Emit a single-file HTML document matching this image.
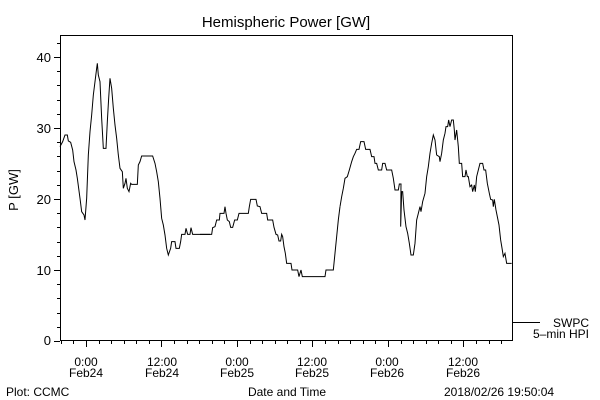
<!DOCTYPE html>
<html><head><meta charset="utf-8"><style>
html,body{margin:0;padding:0;background:#fff;}
svg{display:block;}
text{font-family:"Liberation Sans",sans-serif;fill:#000;}
</style></head><body>
<svg width="600" height="400" viewBox="0 0 600 400" xmlns="http://www.w3.org/2000/svg">
<rect width="600" height="400" fill="#fff"/>
<text x="286" y="27" font-size="15" text-anchor="middle">Hemispheric Power [GW]</text>
<rect x="60.5" y="35.5" width="452" height="305" fill="none" stroke="#000" stroke-width="1"/>
<g stroke="#000" stroke-width="1" id="yt"></g>
<g stroke="#000" stroke-width="1" id="xt"></g>
<g font-size="13" text-anchor="end">
<text x="51" y="62">40</text><text x="51" y="133">30</text><text x="51" y="204">20</text><text x="51" y="275">10</text><text x="51" y="345">0</text>
</g>
<text x="0" y="0" font-size="13" text-anchor="middle" transform="translate(18,190) rotate(-90)">P [GW]</text>
<g font-size="12" text-anchor="middle">
<text x="86" y="366">0:00</text><text x="86" y="377">Feb24</text>
<text x="162" y="366">12:00</text><text x="162" y="377">Feb24</text>
<text x="237" y="366">0:00</text><text x="237" y="377">Feb25</text>
<text x="312" y="366">12:00</text><text x="312" y="377">Feb25</text>
<text x="387" y="366">0:00</text><text x="387" y="377">Feb26</text>
<text x="463" y="366">12:00</text><text x="463" y="377">Feb26</text>
<text x="287" y="396">Date and Time</text>
</g>
<text x="6" y="396" font-size="12">Plot: CCMC</text>
<text x="444" y="396" font-size="12">2018/02/26 19:50:04</text>
<line x1="513" y1="322.5" x2="540" y2="322.5" stroke="#000"/>
<text x="589" y="327" font-size="12" text-anchor="end">SWPC</text>
<text x="589" y="338" font-size="12" text-anchor="end">5–min HPI</text>
<g fill="none" stroke="#000">
<polyline vector-effect="non-scaling-stroke" style="stroke-width:1" transform="translate(60,55) scale(0.3333)" points="0,275 8,260 15,240 22,240 25,258 32,262 38,285 42,320 48,345 52,370 56,400 60,430 65,470 72,480 75,495 80,430 85,300 90,230 95,180 100,120 105,80 110,40 112,25 115,60 120,80 125,190 130,280 138,280 142,200 146,130 150,70 155,100 160,160 165,210 170,250 175,300 180,340 187,350 190,400 195,385 198,370 202,400 207,410 212,385 215,388 232,388 235,330 240,320 245,303 250,303 278,303 285,325 290,350 295,380 300,430 305,490 310,510 315,540 320,580 325,600 332,580 335,560 345,560 348,580 358,580 362,560 365,538 375,538 378,520 383,538 390,538 393,518 398,538 450,538"/>
<polyline vector-effect="non-scaling-stroke" style="stroke-width:1" transform="translate(200,130) scale(0.3333)" points="0,313 35,313 38,293 45,290 50,270 58,270 60,250 72,250 75,230 78,250 82,270 88,275 92,292 98,292 104,270 112,270 117,250 145,250 148,230 152,208 168,208 172,228 180,230 185,250 200,250 203,270 218,270 222,292 228,313 233,315 237,333 242,333 245,313 248,320 252,350 256,370 260,400 273,400 276,420 293,420 297,440 303,420 307,440 375,440 378,420 400,420 405,370 410,320 415,270 420,230"/>
<polyline vector-effect="non-scaling-stroke" style="stroke-width:1" transform="translate(340,110) scale(0.3333)" points="0,290 5,260 10,235 15,205 22,200 28,180 35,155 40,140 45,130 50,118 57,118 62,95 72,95 77,118 90,118 95,140 102,140 105,160 110,160 115,180 125,180 128,160 135,160 140,180 155,180 160,205 165,240 175,240 178,222 183,222 182,350 185,245 188,245 192,300 198,350 203,370 208,400 213,435 220,435 225,400 230,330 235,310 240,290 243,305 248,275 255,250 260,200 265,170 270,130 275,100 280,75 285,90 290,135 298,140 300,155 305,130 310,90 315,70 318,50 323,50 326,30 330,50 335,30 340,30 343,60 345,90 350,60 355,110 358,160 365,160 368,200 375,200 378,180 382,200 385,200 390,230 395,225 398,245 403,225 406,245 410,200 415,180 420,160 428,160 432,180 437,180 442,220 448,250 452,268 458,270 460,290 463,268 468,300 472,320 477,345 482,390 487,420 490,440 495,430 500,460 515,460"/>
</g>
<script>
var ns="http://www.w3.org/2000/svg";
var yt=document.getElementById("yt"),xt=document.getElementById("xt");
function L(g,a,b,c,d){var l=document.createElementNS(ns,"line");l.setAttribute("x1",a);l.setAttribute("y1",b);l.setAttribute("x2",c);l.setAttribute("y2",d);g.appendChild(l);}
for(var v=0;v<=42;v+=2){var y=Math.round(341-v*7.1)+0.5;var len=(v%10==0)?6:3;L(yt,60,y,60-len,y);}
for(var H=-4;H<=67;H+=2){var x=86+H*6.29;if(x<60||x>512)continue;x=Math.round(x)+0.5;var len=(H%12==0)?6:3;L(xt,x,341,x,341+len);}
</script>
</svg>
</body></html>
